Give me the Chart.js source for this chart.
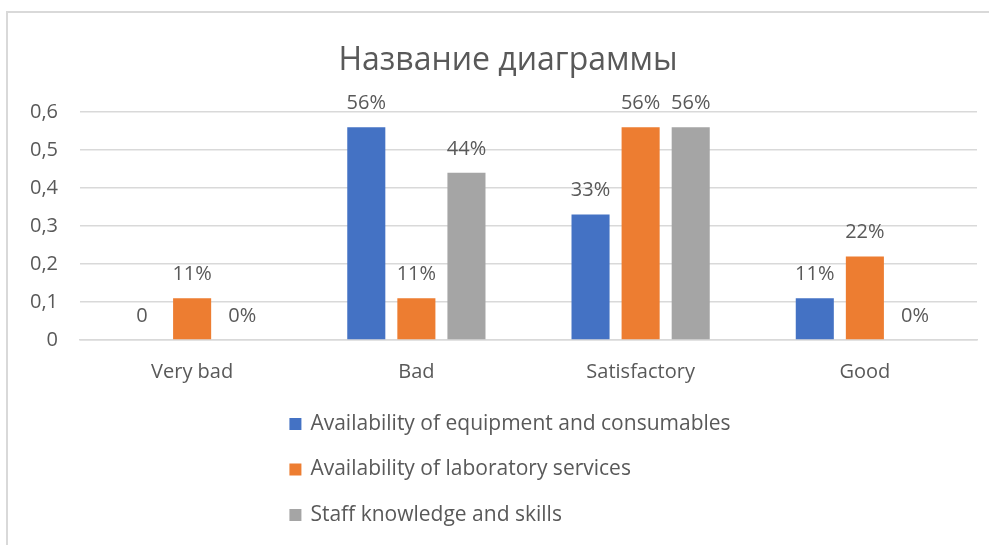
<!DOCTYPE html>
<html>
<head>
<meta charset="utf-8">
<script src="https://cdn.jsdelivr.net/npm/chart.js@4"></script>
<style>
  html, body { margin: 0; padding: 0; background: #fff; overflow: hidden; }
  #frame {
    position: absolute; left: 6px; top: 11px;
    width: 1000px; height: 560px;
    border: 2px solid #d9d9d9;
  }
  #frame canvas { display: block; }
</style>
</head>
<body>
<div id="frame"><canvas id="chart" width="1000" height="560"></canvas></div>
<script>
const chartTitle = 'Название диаграммы';
const categories = ['Very bad', 'Bad', 'Satisfactory', 'Good'];
const seriesNames = [
  'Availability of equipment and consumables',
  'Availability of laboratory services',
  'Staff knowledge and skills'
];
const equipment = [0, 0.56, 0.33, 0.11];
const laboratory = [0.11, 0.11, 0.56, 0.22];
const staff = [0, 0.44, 0.56, 0];
const equipmentLabels = ['0', '56%', '33%', '11%'];
const laboratoryLabels = ['11%', '11%', '56%', '22%'];
const staffLabels = ['0%', '44%', '56%', '0%'];
const colors = ['#4472C4', '#ED7D31', '#A5A5A5'];

const textColor = '#595959';
const fontFamily = '"Open Sans", Lato, sans-serif';

// title centred on the whole chart box, not just the plot area
const centeredTitle = {
  id: 'centeredTitle',
  afterDraw(chart) {
    const ctx = chart.ctx;
    ctx.save();
    ctx.fillStyle = textColor;
    ctx.font = '32px ' + fontFamily;
    ctx.textAlign = 'center';
    ctx.textBaseline = 'middle';
    ctx.fillText(chartTitle, chart.width / 2, 48);
    ctx.restore();
  }
};

// value labels above each bar
const barLabels = {
  id: 'barLabels',
  afterDatasetsDraw(chart) {
    const ctx = chart.ctx;
    ctx.save();
    ctx.fillStyle = textColor;
    ctx.font = '20px ' + fontFamily;
    ctx.textAlign = 'center';
    ctx.textBaseline = 'middle';
    chart.data.datasets.forEach((ds, i) => {
      chart.getDatasetMeta(i).data.forEach((bar, j) => {
        ctx.fillText(ds.valueLabels[j], bar.x, bar.y - 24);
      });
    });
    ctx.restore();
  }
};

// vertical legend under the axis
const stackedLegend = {
  id: 'stackedLegend',
  afterDraw(chart) {
    const ctx = chart.ctx;
    ctx.save();
    ctx.font = '21px ' + fontFamily;
    const widths = chart.data.datasets.map(ds => ctx.measureText(ds.label).width);
    const blockW = 12 + 9 + Math.max(...widths);
    const left = chart.width / 2 - blockW / 2 + 2;
    const top = 411;
    const rowH = 45.5;
    ctx.textBaseline = 'middle';
    chart.data.datasets.forEach((ds, i) => {
      const y = top + i * rowH;
      ctx.fillStyle = ds.backgroundColor;
      ctx.fillRect(left, y - 6, 12, 12);
      ctx.fillStyle = textColor;
      ctx.fillText(ds.label, left + 21, y);
    });
    ctx.restore();
  }
};

new Chart(document.getElementById('chart'), {
  type: 'bar',
  data: {
    labels: categories,
    datasets: [
      { label: seriesNames[0], data: equipment, valueLabels: equipmentLabels, backgroundColor: colors[0] },
      { label: seriesNames[1], data: laboratory, valueLabels: laboratoryLabels, backgroundColor: colors[1] },
      { label: seriesNames[2], data: staff, valueLabels: staffLabels, backgroundColor: colors[2] }
    ]
  },
  options: {
    responsive: false,
    animation: false,
    events: [],
    layout: { padding: { left: 0, right: 31, top: 99, bottom: 177 } },
    datasets: {
      bar: { categoryPercentage: 0.67, barPercentage: 0.76 }
    },
    plugins: {
      legend: { display: false },
      tooltip: { enabled: false },
      title: { display: false }
    },
    scales: {
      x: {
        grid: { display: false },
        border: { color: '#d9d9d9', width: 1.5 },
        ticks: { color: textColor, font: { family: fontFamily, size: 20 }, padding: 12 }
      },
      y: {
        min: 0,
        max: 0.6,
        afterFit(scale) { scale.width = 72; },
        border: { display: false },
        grid: { color: '#d9d9d9', lineWidth: 1.5, drawTicks: false },
        ticks: {
          stepSize: 0.1,
          color: textColor,
          padding: 22,
          font: { family: fontFamily, size: 20 },
          callback: v => v.toFixed(1).replace('.', ',').replace(/^0,0$/, '0')
        }
      }
    }
  },
  plugins: [centeredTitle, barLabels, stackedLegend]
});
</script>
</body>
</html>
